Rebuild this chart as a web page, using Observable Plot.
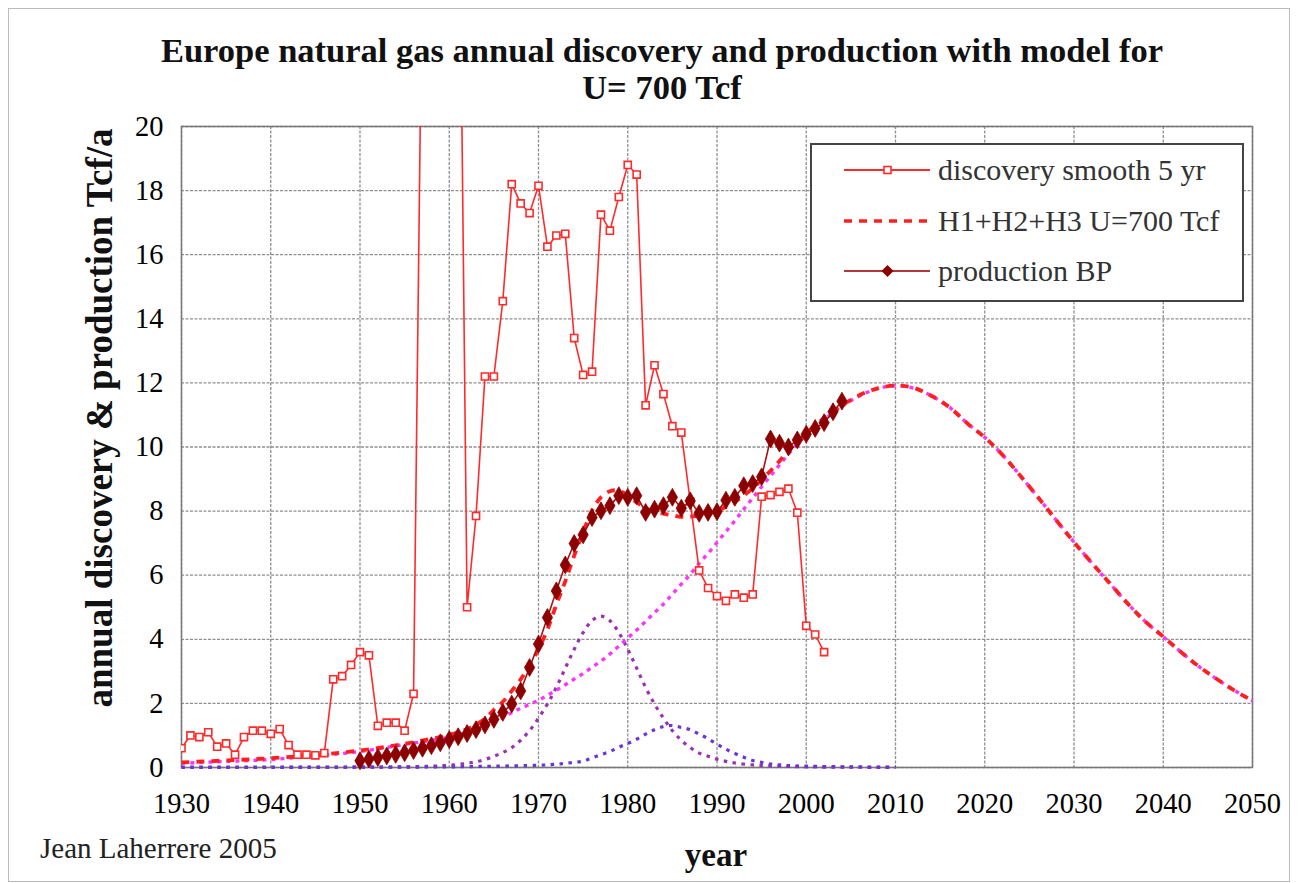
<!DOCTYPE html>
<html>
<head>
<meta charset="utf-8">
<script src="https://cdn.jsdelivr.net/npm/d3@7"></script>
<script src="https://cdn.jsdelivr.net/npm/@observablehq/plot@0.6"></script>
<style>
  html, body { margin: 0; padding: 0; background: #fff; overflow: hidden; }
  body { width: 1298px; height: 883px; position: relative; font-family: "Liberation Serif", "Times New Roman", serif; }
  #chart { position: absolute; left: 0; top: 0; }
  .abs { position: absolute; white-space: nowrap; color: #111; }
  #title { left: 0; width: 1324px; top: 32px; text-align: center; font-weight: bold; font-size: 34.5px; line-height: 37px; }
  #ylab { left: -250px; width: 700px; height: 44px; top: 396px; text-align: center; font-weight: bold; font-size: 37px; transform: rotate(-90deg); transform-origin: 350px 22px; line-height: 44px; }
  #xlab { left: 616px; width: 200px; top: 835px; text-align: center; font-weight: bold; font-size: 33px; line-height: 40px; }
  #cap { left: 40px; top: 828px; font-size: 29px; line-height: 40px; color: #222; }
  #legend { left: 810px; top: 143px; width: 430px; height: 155px; border: 2px solid #444; background: #fff; }
  #frame-outer { left: 8px; top: 8px; width: 1280px; height: 872px; border: 1px solid #bbb; }
</style>
</head>
<body>
<div class="abs" id="frame-outer"></div>
<div id="chart"></div>
<div class="abs" id="title">Europe natural gas annual discovery and production with model for<br>U= 700 Tcf</div>
<div class="abs" id="ylab">annual discovery &amp; production Tcf/a</div>
<div class="abs" id="xlab">year</div>
<div class="abs" id="cap">Jean Laherrere 2005</div>
<div class="abs" id="legend"></div>
<script>
// ---- tick values ----
const xTicks = [1930, 1940, 1950, 1960, 1970, 1980, 1990, 2000, 2010, 2020, 2030, 2040, 2050];
const yTicks = [0, 2, 4, 6, 8, 10, 12, 14, 16, 18, 20];

// ---- discovery smooth 5 yr (Tcf/a), yearly from 1930 ----
const discStartYear = 1930;
const discValues = [
  0.6, 1.0, 0.95, 1.1, 0.65, 0.75, 0.4, 0.95, 1.15, 1.15,     // 1930-1939
  1.05, 1.2, 0.7, 0.4, 0.4, 0.38, 0.45, 2.75, 2.85, 3.2,      // 1940-1949
  3.6, 3.5, 1.3, 1.4, 1.4, 1.15, 2.3, 26, 30, 32,             // 1950-1959
  30, 31, 5.0, 7.85, 12.2, 12.2, 14.55, 18.2, 17.6, 17.3,     // 1960-1969
  18.15, 16.25, 16.6, 16.65, 13.4, 12.25, 12.35, 17.25, 16.75, 17.8, // 1970-1979
  18.8, 18.5, 11.3, 12.55, 11.65, 10.65, 10.45, 8.3, 6.15, 5.6,      // 1980-1989
  5.35, 5.2, 5.4, 5.3, 5.4, 8.45, 8.5, 8.6, 8.7, 7.95,        // 1990-1999
  4.42, 4.15, 3.6                                             // 2000-2002
];

// ---- production BP (Tcf/a), yearly from 1950 ----
const prodStartYear = 1950;
const prodValues = [
  0.21, 0.26, 0.31, 0.36, 0.41, 0.46, 0.53, 0.6, 0.68, 0.77,  // 1950-1959
  0.87, 0.96, 1.06, 1.18, 1.33, 1.5, 1.72, 1.98, 2.39, 3.12,  // 1960-1969
  3.85, 4.68, 5.51, 6.32, 6.99, 7.26, 7.8, 8.01, 8.17, 8.48,  // 1970-1979
  8.43, 8.48, 7.96, 8.06, 8.17, 8.43, 8.09, 8.32, 7.93, 7.96, // 1980-1989
  7.98, 8.34, 8.43, 8.79, 8.86, 9.07, 10.25, 10.12, 10.0, 10.22, // 1990-1999
  10.4, 10.58, 10.76, 11.1, 11.43                             // 2000-2004
];

// ---- model H1+H2+H3 U=700 Tcf (red dashed) ----
const sumYears = [1930, 1935, 1940, 1945, 1950, 1955, 1960, 1962, 1964, 1965, 1966, 1967, 1968, 1969,
  1970, 1971, 1972, 1973, 1974, 1975, 1976, 1977, 1978, 1979, 1980, 1981, 1982, 1983, 1984, 1985,
  1986, 1987, 1988, 1989, 1990, 1991, 1992, 1993, 1994, 1995, 1996, 1997, 1998, 1999, 2000, 2001,
  2002, 2003, 2004, 2006, 2008, 2010, 2012, 2014, 2016, 2018, 2020, 2022, 2024, 2026, 2028, 2030,
  2032, 2034, 2036, 2038, 2040, 2042, 2044, 2046, 2048, 2050];
const sumValues = [0.16, 0.22, 0.29, 0.39, 0.53, 0.74, 1.02, 1.2, 1.52, 1.8, 2.05, 2.39, 2.75, 3.19,
  3.69, 4.3, 5.08, 5.81, 6.61, 7.34, 8.02, 8.43, 8.62, 8.64, 8.48, 8.27, 8.1, 7.97, 7.92, 7.87,
  7.82, 7.83, 7.86, 7.93, 8.02, 8.13, 8.29, 8.49, 8.71, 8.98, 9.26, 9.56, 9.88, 10.17, 10.43, 10.67,
  10.9, 11.1, 11.3, 11.62, 11.83, 11.92, 11.85, 11.6, 11.25, 10.75, 10.3, 9.75, 9.1, 8.42, 7.72, 7.03,
  6.38, 5.75, 5.12, 4.55, 4.08, 3.6, 3.15, 2.76, 2.4, 2.08];

// ---- H1 (purple dotted) ----
const h1Years = [1930, 1940, 1950, 1955, 1958, 1960, 1962, 1963, 1964, 1965, 1966, 1967, 1968, 1969,
  1970, 1971, 1972, 1973, 1974, 1975, 1976, 1977, 1978, 1979, 1980, 1981, 1982, 1983, 1984, 1985,
  1986, 1987, 1988, 1989, 1990, 1991, 1992, 1994, 1996, 2000, 2005, 2010];
const h1Values = [0.0, 0.0, 0.01, 0.02, 0.04, 0.07, 0.13, 0.18, 0.25, 0.35, 0.47, 0.62, 0.85, 1.15,
  1.54, 1.98, 2.5, 3.1, 3.69, 4.21, 4.58, 4.72, 4.58, 4.21, 3.69, 3.1, 2.5, 1.98, 1.54, 1.15,
  0.85, 0.62, 0.45, 0.35, 0.26, 0.19, 0.14, 0.08, 0.05, 0.02, 0.01, 0.0];

// ---- H2 (blue-violet dotted) ----
const h2Years = [1930, 1950, 1960, 1965, 1970, 1972, 1973, 1974, 1975, 1976, 1977, 1978, 1979, 1980,
  1981, 1982, 1983, 1984, 1985, 1986, 1987, 1988, 1989, 1990, 1991, 1992, 1993, 1994, 1995, 1996,
  1997, 1998, 2000, 2005, 2010];
const h2Values = [0.01, 0.01, 0.02, 0.04, 0.07, 0.1, 0.13, 0.16, 0.2, 0.3, 0.4, 0.5, 0.63, 0.75,
  0.88, 1.04, 1.18, 1.28, 1.31, 1.25, 1.18, 1.04, 0.9, 0.73, 0.57, 0.44, 0.32, 0.22, 0.16, 0.11,
  0.08, 0.06, 0.04, 0.02, 0.01];

// ---- H3 (magenta dotted) ----
const h3Years = [1930, 1935, 1940, 1945, 1950, 1955, 1960, 1963, 1965, 1966, 1967, 1968, 1969, 1970,
  1971, 1972, 1973, 1974, 1975, 1976, 1977, 1978, 1979, 1980, 1981, 1982, 1983, 1984, 1985, 1986,
  1987, 1988, 1989, 1990, 1991, 1992, 1993, 1994, 1995, 1996, 1997, 1998, 1999, 2000, 2002, 2004,
  2006, 2008, 2010, 2012, 2014, 2016, 2018, 2020, 2022, 2024, 2026, 2028, 2030, 2032, 2034, 2036,
  2038, 2040, 2042, 2044, 2046, 2048, 2050];
const h3Values = [0.13, 0.19, 0.25, 0.36, 0.5, 0.72, 0.95, 1.2, 1.43, 1.57, 1.71, 1.85, 1.97, 2.1,
  2.25, 2.41, 2.58, 2.76, 2.93, 3.13, 3.32, 3.54, 3.79, 4.04, 4.29, 4.56, 4.83, 5.1, 5.41, 5.72,
  6.03, 6.37, 6.68, 7.02, 7.36, 7.7, 8.06, 8.41, 8.76, 9.1, 9.44, 9.78, 10.09, 10.38, 10.85, 11.27,
  11.6, 11.82, 11.91, 11.84, 11.6, 11.25, 10.75, 10.3, 9.75, 9.1, 8.42, 7.72, 7.03, 6.38, 5.75, 5.12,
  4.55, 4.08, 3.6, 3.15, 2.76, 2.4, 2.08];

// ---- build tables ----
const disc = discValues.map((v, i) => ({year: discStartYear + i, value: v}));
const prod = prodValues.map((v, i) => ({year: prodStartYear + i, value: v}));
const zipSeries = (ys, vs) => ys.map((y, i) => ({year: y, value: vs[i]}));
const sumM = zipSeries(sumYears, sumValues);
const h1 = zipSeries(h1Years, h1Values);
const h2 = zipSeries(h2Years, h2Values);
const h3 = zipSeries(h3Years, h3Values);

const C = {
  disc: "#ff2a2a",
  sum: "#ff1f1f",
  prodLine: "#a31515",
  prodDot: "#8c0000",
  h1: "#9b30b0",
  h2: "#6a35d8",
  h3: "#ff33ff",
  grid: "#8f8f8f"
};

const dotted = {strokeWidth: 3.2, strokeDasharray: "3.5,5.5", strokeLinecap: "butt", curve: "catmull-rom"};

const chart = Plot.plot({
  width: 1298,
  height: 883,
  marginLeft: 181,
  marginRight: 46,
  marginTop: 126,
  marginBottom: 116,
  x: {domain: [1930, 2050]},
  y: {domain: [0, 20]},
  style: {fontFamily: "'Liberation Serif', 'Times New Roman', serif", fontSize: "28.5px", color: "#000", background: "transparent", overflow: "visible"},
  marks: [
    Plot.gridX(xTicks, {stroke: C.grid, strokeOpacity: 1, strokeWidth: 1.3, strokeDasharray: "3,1.5"}),
    Plot.gridY(yTicks, {stroke: C.grid, strokeOpacity: 1, strokeWidth: 1.3, strokeDasharray: "3,1.5"}),
    Plot.frame({stroke: "#777", strokeWidth: 1.5}),
    Plot.axisX({ticks: xTicks, tickSize: 0, tickPadding: 25, label: null, tickFormat: d => String(d)}),
    Plot.axisY({ticks: yTicks, tickSize: 0, tickPadding: 18, label: null, tickFormat: d => String(d)}),
    // model components
    Plot.line(h1, {x: "year", y: "value", stroke: C.h1, ...dotted}),
    Plot.line(h2, {x: "year", y: "value", stroke: C.h2, ...dotted}),
    Plot.line(h3, {x: "year", y: "value", stroke: C.h3, ...dotted, strokeWidth: 3.4, strokeDasharray: "4,5"}),
    // model sum
    Plot.line(sumM, {x: "year", y: "value", stroke: C.sum, strokeWidth: 3.8, strokeDasharray: "8,7", strokeLinecap: "butt", curve: "catmull-rom"}),
    // discovery
    Plot.line(disc, {x: "year", y: "value", stroke: C.disc, strokeWidth: 1.6, clip: true}),
    Plot.dot(disc, {x: "year", y: "value", symbol: "square", r: 4, fill: "#fff", stroke: C.disc, strokeWidth: 1.6, clip: true}),
    // production
    Plot.line(prod, {x: "year", y: "value", stroke: C.prodLine, strokeWidth: 1.6}),
    Plot.dot(prod, {x: "year", y: "value", symbol: "diamond", r: 5.4, fill: C.prodDot, stroke: C.prodDot, strokeWidth: 0.8})
  ]
});
document.getElementById("chart").appendChild(chart);

// ---- legend ----
const legendItems = [
  {label: "discovery smooth 5 yr", color: C.disc, dash: null, marker: "square", y: 25},
  {label: "H1+H2+H3 U=700 Tcf", color: C.sum, dash: "8,7", marker: null, y: 76},
  {label: "production BP", color: "#b03a3a", dash: null, marker: "diamond", y: 126}
];
const ns = "http://www.w3.org/2000/svg";
const lsvg = document.createElementNS(ns, "svg");
lsvg.setAttribute("width", 430);
lsvg.setAttribute("height", 155);
lsvg.style.position = "absolute";
lsvg.style.left = "0px";
lsvg.style.top = "0px";
for (const it of legendItems) {
  const ln = document.createElementNS(ns, "line");
  ln.setAttribute("x1", 32); ln.setAttribute("x2", 118);
  ln.setAttribute("y1", it.y); ln.setAttribute("y2", it.y);
  ln.setAttribute("stroke", it.color);
  ln.setAttribute("stroke-width", it.dash ? 3.6 : 1.8);
  if (it.dash) ln.setAttribute("stroke-dasharray", it.dash);
  lsvg.appendChild(ln);
  if (it.marker === "square") {
    const r = document.createElementNS(ns, "rect");
    r.setAttribute("x", 72); r.setAttribute("y", it.y - 3.5);
    r.setAttribute("width", 7); r.setAttribute("height", 7);
    r.setAttribute("fill", "#fff"); r.setAttribute("stroke", it.color); r.setAttribute("stroke-width", 1.6);
    lsvg.appendChild(r);
  } else if (it.marker === "diamond") {
    const p = document.createElementNS(ns, "path");
    p.setAttribute("d", `M75.5,${it.y - 6} L81.5,${it.y} L75.5,${it.y + 6} L69.5,${it.y} Z`);
    p.setAttribute("fill", C.prodDot);
    lsvg.appendChild(p);
  }
  const t = document.createElementNS(ns, "text");
  t.setAttribute("x", 126); t.setAttribute("y", it.y);
  t.setAttribute("dy", "0.33em");
  t.setAttribute("font-family", "'Liberation Serif', 'Times New Roman', serif");
  t.setAttribute("font-size", "30px");
  t.setAttribute("fill", "#333");
  t.textContent = it.label;
  lsvg.appendChild(t);
}
document.getElementById("legend").appendChild(lsvg);
</script>
</body>
</html>
